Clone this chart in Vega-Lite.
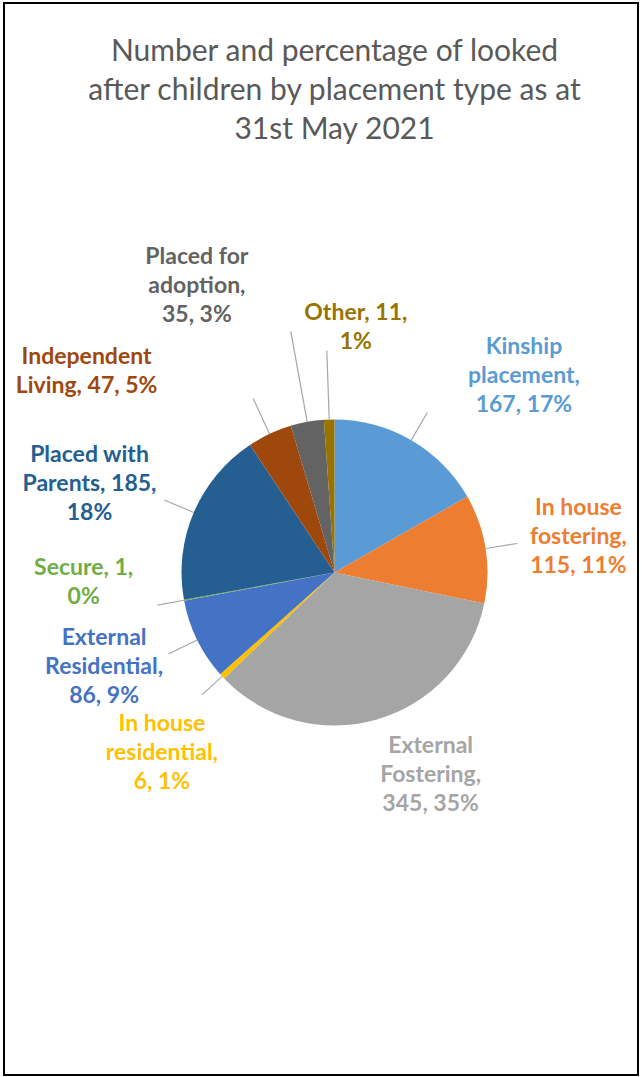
{
  "$schema": "https://vega.github.io/schema/vega-lite/v6.json",
  "width": 642,
  "height": 1077,
  "autosize": {"type": "fit", "contains": "padding"},
  "padding": {"left": 4, "top": 3, "right": 4, "bottom": 2},
  "background": "white",
  "view": {"stroke": "#000000", "strokeWidth": 2},
  "config": {"view": {"stroke": "#000000", "strokeWidth": 2}, "style": {"cell": {"stroke": "#000000", "strokeWidth": 2}}},
  "title": {
    "text": ["Number and percentage of looked", "after children by placement type as at", "31st May 2021"],
    "font": "Lato", "fontSize": 30, "fontWeight": "normal", "color": "#595959",
    "lineHeight": 39, "anchor": "middle", "baseline": "top", "offset": -142, "dx": 13.5
  },
  "data": {"values": [
    {"category": "Kinship placement", "count": 167, "rank": 1, "label": "Kinship\nplacement,\n167, 17%"},
    {"category": "In house fostering", "count": 115, "rank": 2, "label": "In house\nfostering,\n115, 11%"},
    {"category": "External Fostering", "count": 345, "rank": 3, "label": "External\nFostering,\n345, 35%"},
    {"category": "In house residential", "count": 6, "rank": 4, "label": "In house\nresidential,\n6, 1%"},
    {"category": "External Residential", "count": 86, "rank": 5, "label": "External\nResidential,\n86, 9%"},
    {"category": "Secure", "count": 1, "rank": 6, "label": "Secure, 1,\n0%"},
    {"category": "Placed with Parents", "count": 185, "rank": 7, "label": "Placed with\nParents, 185,\n18%"},
    {"category": "Independent Living", "count": 47, "rank": 8, "label": "Independent\nLiving, 47, 5%"},
    {"category": "Placed for adoption", "count": 35, "rank": 9, "label": "Placed for\nadoption,\n35, 3%"},
    {"category": "Other", "count": 11, "rank": 10, "label": "Other, 11,\n1%"}
  ]},
  "encoding": {
    "theta": {"field": "count", "type": "quantitative", "stack": true},
    "order": {"field": "rank", "type": "quantitative"},
    "color": {
      "field": "category", "type": "nominal", "legend": null,
      "scale": {
        "domain": ["Kinship placement", "In house fostering", "External Fostering", "In house residential", "External Residential", "Secure", "Placed with Parents", "Independent Living", "Placed for adoption", "Other"],
        "range": ["#5B9BD5", "#ED7D31", "#A5A5A5", "#FFC000", "#4472C4", "#70AD47", "#255E91", "#9E480E", "#636363", "#997300"]
      }
    }
  },
  "layer": [
    {"mark": {"type": "arc", "outerRadius": 153, "xOffset": 13.5, "yOffset": 33.5}},
    {
      "mark": {"type": "arc", "padAngle": 3.1416, "radius": 185, "radius2": 153, "stroke": "#A6A6A6", "strokeWidth": 1.2, "xOffset": 13.5, "yOffset": 33.5, "clip": true},
      "encoding": {
        "color": {"value": "#A6A6A6"}, "detail": {"field": "category"},
        "strokeOpacity": {"condition": {"test": "indexof(['Kinship placement','In house fostering','External Residential','Placed with Parents'], datum.category) >= 0", "value": 1}, "value": 0}
      }
    },
    {
      "mark": {"type": "arc", "padAngle": 3.1416, "radius": 180, "radius2": 153, "stroke": "#A6A6A6", "strokeWidth": 1.2, "xOffset": 13.5, "yOffset": 33.5, "clip": true},
      "encoding": {
        "color": {"value": "#A6A6A6"}, "detail": {"field": "category"},
        "strokeOpacity": {"condition": {"test": "indexof(['In house residential','Secure'], datum.category) >= 0", "value": 1}, "value": 0}
      }
    },
    {
      "mark": {"type": "arc", "padAngle": 3.1416, "radius": 192, "radius2": 153, "stroke": "#A6A6A6", "strokeWidth": 1.2, "xOffset": 13.5, "yOffset": 33.5, "clip": true},
      "encoding": {
        "color": {"value": "#A6A6A6"}, "detail": {"field": "category"},
        "strokeOpacity": {"condition": {"test": "datum.category === 'Independent Living'", "value": 1}, "value": 0}
      }
    },
    {
      "mark": {"type": "arc", "padAngle": 3.1416, "radius": 222, "radius2": 153, "stroke": "#A6A6A6", "strokeWidth": 1.2, "xOffset": 13.5, "yOffset": 33.5, "clip": true},
      "encoding": {
        "color": {"value": "#A6A6A6"}, "detail": {"field": "category"},
        "strokeOpacity": {"condition": {"test": "datum.category === 'Other'", "value": 1}, "value": 0}
      }
    },
    {
      "mark": {"type": "arc", "padAngle": 3.1416, "radius": 245, "radius2": 153, "stroke": "#A6A6A6", "strokeWidth": 1.2, "xOffset": 13.5, "yOffset": 33.5, "clip": true},
      "encoding": {
        "color": {"value": "#A6A6A6"}, "detail": {"field": "category"},
        "strokeOpacity": {"condition": {"test": "datum.category === 'Placed for adoption'", "value": 1}, "value": 0}
      }
    },
    {
      "mark": {"type": "text", "clip": true, "radius": 250, "dx": 64, "dy": -9, "font": "Lato", "fontWeight": "bold", "fontSize": 23, "lineHeight": 29, "lineBreak": "\n", "align": "center", "baseline": "middle", "xOffset": 13.5, "yOffset": 33.5},
      "encoding": {"text": {"condition": {"test": "datum.category === 'Kinship placement'", "field": "label", "type": "nominal"}, "value": ""}}
    },
    {
      "mark": {"type": "text", "clip": true, "radius": 250, "dx": -3, "dy": -25, "font": "Lato", "fontWeight": "bold", "fontSize": 23, "lineHeight": 29, "lineBreak": "\n", "align": "center", "baseline": "middle", "xOffset": 13.5, "yOffset": 33.5},
      "encoding": {"text": {"condition": {"test": "datum.category === 'In house fostering'", "field": "label", "type": "nominal"}, "value": ""}}
    },
    {
      "mark": {"type": "text", "clip": true, "radius": 250, "dx": 27, "dy": -67, "font": "Lato", "fontWeight": "bold", "fontSize": 23, "lineHeight": 29, "lineBreak": "\n", "align": "center", "baseline": "middle", "xOffset": 13.5, "yOffset": 33.5},
      "encoding": {"text": {"condition": {"test": "datum.category === 'External Fostering'", "field": "label", "type": "nominal"}, "value": ""}}
    },
    {
      "mark": {"type": "text", "clip": true, "radius": 250, "dx": 11, "dy": -18, "font": "Lato", "fontWeight": "bold", "fontSize": 23, "lineHeight": 29, "lineBreak": "\n", "align": "center", "baseline": "middle", "xOffset": 13.5, "yOffset": 33.5},
      "encoding": {"text": {"condition": {"test": "datum.category === 'In house residential'", "field": "label", "type": "nominal"}, "value": ""}}
    },
    {
      "mark": {"type": "text", "clip": true, "radius": 250, "dx": -6, "dy": -45, "font": "Lato", "fontWeight": "bold", "fontSize": 23, "lineHeight": 29, "lineBreak": "\n", "align": "center", "baseline": "middle", "xOffset": 13.5, "yOffset": 33.5},
      "encoding": {"text": {"condition": {"test": "datum.category === 'External Residential'", "field": "label", "type": "nominal"}, "value": ""}}
    },
    {
      "mark": {"type": "text", "clip": true, "radius": 250, "dx": -5, "dy": -49.5, "font": "Lato", "fontWeight": "bold", "fontSize": 23, "lineHeight": 29, "lineBreak": "\n", "align": "center", "baseline": "middle", "xOffset": 13.5, "yOffset": 33.5},
      "encoding": {"text": {"condition": {"test": "datum.category === 'Secure'", "field": "label", "type": "nominal"}, "value": ""}}
    },
    {
      "mark": {"type": "text", "clip": true, "radius": 250, "dx": -15, "dy": -19, "font": "Lato", "fontWeight": "bold", "fontSize": 23, "lineHeight": 29, "lineBreak": "\n", "align": "center", "baseline": "middle", "xOffset": 13.5, "yOffset": 33.5},
      "encoding": {"text": {"condition": {"test": "datum.category === 'Placed with Parents'", "field": "label", "type": "nominal"}, "value": ""}}
    },
    {
      "mark": {"type": "text", "clip": true, "radius": 250, "dx": -142, "dy": 10.5, "font": "Lato", "fontWeight": "bold", "fontSize": 23, "lineHeight": 29, "lineBreak": "\n", "align": "center", "baseline": "middle", "xOffset": 13.5, "yOffset": 33.5},
      "encoding": {"text": {"condition": {"test": "datum.category === 'Independent Living'", "field": "label", "type": "nominal"}, "value": ""}}
    },
    {
      "mark": {"type": "text", "clip": true, "radius": 250, "dx": -93, "dy": -70, "font": "Lato", "fontWeight": "bold", "fontSize": 23, "lineHeight": 29, "lineBreak": "\n", "align": "center", "baseline": "middle", "xOffset": 13.5, "yOffset": 33.5},
      "encoding": {"text": {"condition": {"test": "datum.category === 'Placed for adoption'", "field": "label", "type": "nominal"}, "value": ""}}
    },
    {
      "mark": {"type": "text", "clip": true, "radius": 250, "dx": 30, "dy": -9.5, "font": "Lato", "fontWeight": "bold", "fontSize": 23, "lineHeight": 29, "lineBreak": "\n", "align": "center", "baseline": "middle", "xOffset": 13.5, "yOffset": 33.5},
      "encoding": {"text": {"condition": {"test": "datum.category === 'Other'", "field": "label", "type": "nominal"}, "value": ""}}
    }
  ]
}
